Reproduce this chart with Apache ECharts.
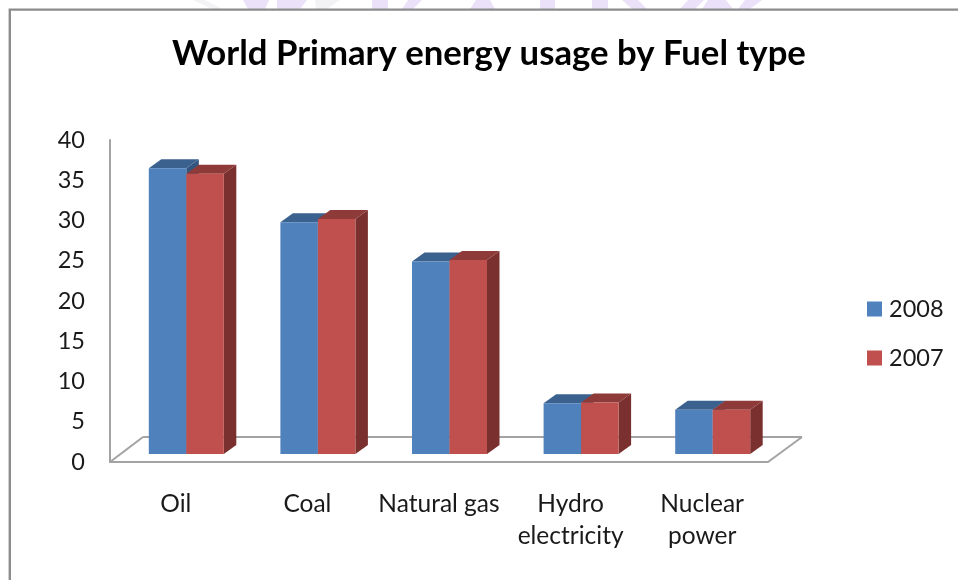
<!DOCTYPE html>
<html>
<head>
<meta charset="utf-8">
<style>html,body{margin:0;padding:0;background:#fff}#chart{width:958px;height:580px}</style>
<script src="https://cdn.jsdelivr.net/npm/echarts@6/dist/echarts.min.js"></script>
</head>
<body>
<div id="chart"></div>
<script>
const categories = ['Oil', 'Coal', 'Natural gas', 'Hydro\nelectricity', 'Nuclear\npower'];
const values2008 = [35.5, 28.8, 23.9, 6.3, 5.5];
const values2007 = [34.8, 29.2, 24.1, 6.4, 5.5];
const yTicks = { min: 0, max: 40, interval: 5 };

const FONT = 'Lato';
const AXIS_GREY = '#a3a3a3';
const TEXT = '#1a1a1a';
const DEPTH_X = 12.5, DEPTH_Y = 9;      // oblique offset of a bar's side faces
const BAR_W = 37.5;                     // width of one bar's front face
const LIFT_X = 10.5, LIFT_Y = 8;        // bars stand inside the floor, not on its front edge

function shade(pts, fill) {
  return { type: 'polygon', shape: { points: pts }, style: { fill: fill } };
}

// One oblique box per category: side, top, then the front face.
function boxRenderer(slot, front, top, side) {
  return function (params, api) {
    const base = api.coord([api.value(0), 0]);
    const head = api.coord([api.value(0), api.value(1)]);
    const x0 = base[0] + LIFT_X + (slot === 0 ? -BAR_W : 0);
    const x1 = x0 + BAR_W;
    const yb = base[1] - LIFT_Y;
    const yt = head[1] - LIFT_Y;
    return {
      type: 'group',
      children: [
        shade([[x1, yb], [x1 + DEPTH_X, yb - DEPTH_Y], [x1 + DEPTH_X, yt - DEPTH_Y], [x1, yt]], side),
        shade([[x0, yt], [x0 + DEPTH_X, yt - DEPTH_Y], [x1 + DEPTH_X, yt - DEPTH_Y], [x1, yt]], top),
        shade([[x0, yb], [x1, yb], [x1, yt], [x0, yt]], front)
      ]
    };
  };
}

// Floor outline behind the bars, hung off the plot's lower corners.
function floorRenderer(params, api) {
  const cs = params.coordSys;
  const y = cs.y + cs.height, xl = cs.x, xr = cs.x + cs.width;
  const line = (a, b) => ({
    type: 'line',
    shape: { x1: a[0], y1: a[1], x2: b[0], y2: b[1] },
    style: { stroke: AXIS_GREY, lineWidth: 2 }
  });
  const backL = [xl + 33, y - 25], backR = [xr + 34, y - 25];
  return {
    type: 'group',
    children: [line([xl, y], backL), line(backL, backR), line(backR, [xr, y])]
  };
}

// Pale shapes of the page's backdrop showing above the chart frame:
// [top-left x, top-right x, bottom-right x, bottom-left x, fill]
const LAVENDER = '#ebe1f8', PALE_GREY = '#f3f3f5';
const backdropShapes = [
  [193, 205, 223, 212, PALE_GREY], [315, 340, 327, 316, PALE_GREY],
  [243, 269, 265, 248, LAVENDER], [277, 307, 300, 277, LAVENDER],
  [372, 388, 388, 372, LAVENDER], [408, 422, 413, 402, LAVENDER],
  [476, 490, 495, 470, LAVENDER], [540, 555, 555, 540, LAVENDER],
  [592, 608, 608, 592, LAVENDER], [622, 638, 647, 632, LAVENDER],
  [688, 704, 695, 680, LAVENDER], [708, 726, 733, 702, LAVENDER],
  [745, 762, 750, 738, LAVENDER]
];

const chart = echarts.init(document.getElementById('chart'), null, { renderer: 'canvas' });
chart.setOption({
  animation: false,
  backgroundColor: '#ffffff',
  title: {
    text: 'World Primary energy usage by Fuel type',
    left: 167, top: 31,
    textStyle: { fontFamily: FONT, fontWeight: 'bold', fontSize: 34.7, color: '#000000' }
  },
  legend: {
    orient: 'vertical', left: 862, top: 292, itemWidth: 15, itemHeight: 15, itemGap: 25,
    icon: 'rect',
    textStyle: { fontFamily: FONT, fontSize: 23.5, color: TEXT, padding: [0, 0, 0, 2] },
    data: ['2008', '2007']
  },
  grid: { left: 110, top: 140, width: 658, height: 322, containLabel: false },
  xAxis: {
    type: 'category',
    data: categories,
    axisTick: { show: false },
    axisLine: { lineStyle: { color: AXIS_GREY, width: 2 } },
    axisLabel: { fontFamily: FONT, fontSize: 24.5, color: TEXT, margin: 26, lineHeight: 32, interval: 0 }
  },
  yAxis: {
    type: 'value',
    min: yTicks.min, max: yTicks.max, interval: yTicks.interval,
    splitLine: { show: false },
    axisTick: { show: false },
    axisLine: { show: true, lineStyle: { color: AXIS_GREY, width: 2 } },
    axisLabel: { fontFamily: FONT, fontSize: 23.5, color: TEXT, margin: 25, padding: [7, 0, 0, 0] }
  },
  series: [
    {
      type: 'custom', name: 'floor', silent: true, z: 1,
      data: [[0, 0]], encode: { x: 0, y: 1 },
      renderItem: floorRenderer
    },
    {
      type: 'custom', name: '2008', z: 2,
      itemStyle: { color: '#4f81bd' },
      data: values2008.map((v, i) => [i, v]), encode: { x: 0, y: 1 },
      renderItem: boxRenderer(0, '#4f81bd', '#3b618f', '#325680')
    },
    {
      type: 'custom', name: '2007', z: 3,
      itemStyle: { color: '#c0504d' },
      data: values2007.map((v, i) => [i, v]), encode: { x: 0, y: 1 },
      renderItem: boxRenderer(1, '#c0504d', '#8e3a38', '#7a302e')
    }
  ],
  graphic: backdropShapes.map(s => ({
    type: 'polygon', silent: true, z: 0,
    shape: { points: [[s[0], 0], [s[1], 0], [s[2], 9], [s[3], 9]] },
    style: { fill: s[4] }
  })).concat([
    {
      type: 'polyline', silent: true, z: 10,
      shape: { points: [[9.8, 580], [9.8, 9.6], [958, 9.6]] },
      style: { stroke: '#8c8c8c', lineWidth: 2.4, fill: null }
    }
  ])
});
</script>
</body>
</html>
